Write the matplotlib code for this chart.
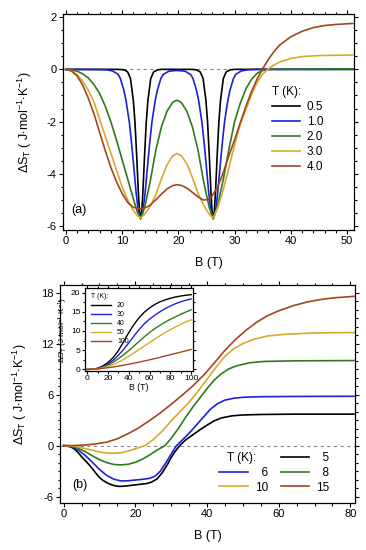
import matplotlib
matplotlib.use("Agg")
import numpy as np
from matplotlib import pyplot as plt
from matplotlib.lines import Line2D
from matplotlib.ticker import MultipleLocator

plt.rcParams['font.family'] = ['Liberation Sans', 'DejaVu Sans']
plt.rcParams['mathtext.fontset'] = 'custom'
plt.rcParams['mathtext.rm'] = 'Liberation Sans'
plt.rcParams['mathtext.it'] = 'Liberation Sans:italic'
plt.rcParams['axes.unicode_minus'] = False

# ---- panel (a): low temperatures, B up to 51 T ----
b_05 = [0, 9, 10, 10.5, 11, 11.5, 12, 12.3, 12.6, 12.9, 13.1, 13.3, 13.5, 13.7, 14.0, 14.3, 14.6, 15.1, 15.6,
        16.3, 17, 22.5, 23.2, 23.9, 24.4, 24.9, 25.2, 25.5, 25.8, 26.0, 26.2, 26.4, 26.6, 26.9, 27.2, 27.5,
        28.0, 28.5, 29.2, 30, 51]
ds_05 = [0, 0, -0.01, -0.03, -0.1, -0.35, -1.18, -2.03, -3.3, -4.72, -5.45, -5.72, -5.45, -4.72, -3.3, -2.03,
         -1.18, -0.35, -0.1, -0.02, 0, 0, -0.02, -0.1, -0.35, -1.18, -2.03, -3.3, -4.72, -5.45, -5.72, -5.45,
         -4.72, -3.3, -2.03, -1.18, -0.35, -0.1, -0.02, 0, 0]

b_10 = [0, 6, 7.3, 8.3, 9.3, 9.7, 10.3, 10.7, 11.3, 11.7, 12.1, 12.5, 12.9, 13.3, 13.7, 14.1, 14.5, 14.9, 15.3,
        15.9, 16.3, 16.9, 17.3, 18.3, 19.75, 21.2, 22.2, 22.6, 23.2, 23.6, 24.2, 24.6, 25.0, 25.4, 25.8, 26.2,
        26.6, 27.0, 27.4, 27.8, 28.2, 28.8, 29.2, 29.8, 30.2, 31.2, 32.2, 34, 51]
ds_10 = [0, -0.01, -0.02, -0.06, -0.19, -0.35, -0.78, -1.18, -2.03, -2.85, -3.77, -4.72, -5.45, -5.72, -5.45,
         -4.72, -3.77, -2.85, -2.03, -1.18, -0.78, -0.35, -0.2, -0.07, -0.04, -0.07, -0.2, -0.35, -0.78, -1.18,
         -2.03, -2.85, -3.77, -4.72, -5.45, -5.72, -5.45, -4.72, -3.77, -2.85, -2.03, -1.18, -0.78, -0.35,
         -0.19, -0.06, -0.02, 0, 0]

b_20 = [0, 1, 2, 3, 4, 5, 6, 7, 8, 9, 10, 11, 12, 12.7, 13.3, 14, 15, 16, 17, 18, 19, 19.75, 20.5, 21.5, 22.5,
        23.5, 24.5, 25.5, 26.2, 27, 28, 29, 30, 31, 32, 33, 34, 35, 36, 40, 51]
ds_20 = [0, -0.02, -0.07, -0.17, -0.33, -0.58, -0.92, -1.4, -2.0, -2.7, -3.45, -4.2, -4.95, -5.45, -5.72, -5.3,
         -4.3, -3.1, -2.2, -1.6, -1.26, -1.18, -1.26, -1.6, -2.2, -3.1, -4.3, -5.3, -5.72, -5.2, -4.2, -3.05,
         -2.0, -1.3, -0.75, -0.38, -0.15, -0.04, 0.0, 0.01, 0.02]

b_30 = [0, 1, 2, 3, 4, 5, 6, 7, 8, 9, 10, 11, 12, 12.7, 13.3, 14, 15, 16, 17, 18, 19, 19.8, 20.6, 21.6, 22.6,
        23.6, 24.6, 25.5, 26.2, 27, 28, 29, 30, 31, 32, 33, 34, 35, 36, 37, 38, 40, 42, 45, 51]
ds_30 = [0, -0.05, -0.2, -0.45, -0.8, -1.25, -1.9, -2.55, -3.2, -3.85, -4.5, -5.0, -5.4, -5.6, -5.7, -5.55,
         -5.25, -4.8, -4.2, -3.65, -3.32, -3.22, -3.32, -3.65, -4.2, -4.8, -5.25, -5.55, -5.7, -5.3, -4.6,
         -3.75, -2.9, -2.1, -1.55, -0.98, -0.5, -0.18, 0.02, 0.17, 0.28, 0.42, 0.49, 0.53, 0.55]

b_40 = [0, 1, 2, 3, 4, 5, 6, 7, 8, 9, 10, 11, 12, 13, 13.9, 15, 16, 17, 18, 19, 19.8, 20.6, 21.6, 22.6, 23.6,
        24.4, 25.2, 26, 27, 28, 29, 30, 31, 32, 33, 34, 35, 36, 37, 38, 40, 42, 44, 46, 48, 51]
ds_40 = [0, -0.06, -0.25, -0.6, -1.1, -1.7, -2.4, -3.1, -3.75, -4.3, -4.75, -5.1, -5.28, -5.34, -5.33, -5.2,
         -5.0, -4.78, -4.58, -4.45, -4.42, -4.45, -4.56, -4.73, -4.9, -5.0, -5.0, -4.85, -4.5, -3.95, -3.3,
         -2.7, -2.05, -1.42, -0.85, -0.37, 0.03, 0.38, 0.68, 0.93, 1.25, 1.46, 1.6, 1.68, 1.72, 1.76]

temps_a = ['0.5', '1.0', '2.0', '3.0', '4.0']

# ---- panel (b): higher temperatures, B up to 81 T ----
b_5 = [0, 2, 3, 4, 5, 6, 7, 8, 9, 10, 11, 12, 13, 14, 15.5, 17, 19, 21, 23, 24.5, 26, 27.5, 29, 30, 31, 32.4,
       34, 36, 38, 40, 42, 44, 47, 50, 55, 65, 81]
ds_5 = [0, -0.15, -0.4, -0.8, -1.3, -1.75, -2.2, -2.7, -3.25, -3.75, -4.1, -4.35, -4.55, -4.7, -4.8, -4.77,
        -4.67, -4.57, -4.48, -4.3, -3.95, -3.2, -2.2, -1.4, -0.75, 0, 0.65, 1.25, 1.85, 2.4, 2.9, 3.25, 3.5,
        3.6, 3.66, 3.7, 3.7]

b_6 = [0, 2, 4, 6, 8, 10, 12, 14, 16, 18, 20, 22, 24, 25.5, 27, 28.5, 30, 31.5, 33, 35, 37, 39, 41, 43, 45,
       47.5, 50, 55, 65, 81]
ds_6 = [0, -0.1, -0.5, -1.15, -1.95, -2.8, -3.5, -3.95, -4.16, -4.14, -4.05, -3.97, -3.85, -3.6, -3.0, -2.05,
        -1.0, 0, 0.6, 1.45, 2.4, 3.35, 4.3, 4.95, 5.35, 5.57, 5.68, 5.75, 5.78, 5.8]

b_8 = [0, 2, 4, 6, 8, 10, 12, 14, 16, 18, 20, 22, 24, 26, 28.3, 30, 32, 34, 36, 38, 40, 42, 44, 46, 48, 52,
       56, 65, 81]
ds_8 = [0, -0.06, -0.3, -0.7, -1.2, -1.65, -2.0, -2.22, -2.27, -2.2, -1.97, -1.6, -1.1, -0.55, 0, 0.85, 2.0,
        3.3, 4.5, 5.6, 6.7, 7.7, 8.45, 9.0, 9.35, 9.75, 9.9, 9.97, 10.0]

b_10k = [0, 2, 4, 6, 8, 10, 12, 14, 16, 18, 20, 22.7, 25, 27.5, 30, 32.5, 35, 37.5, 40, 42.5, 45, 47.5, 50,
         53, 57, 62, 70, 81]
ds_10k = [0, -0.03, -0.15, -0.35, -0.55, -0.75, -0.87, -0.9, -0.85, -0.65, -0.38, 0, 0.7, 1.7, 2.9, 4.0, 5.1,
          6.4, 7.8, 9.2, 10.5, 11.4, 12.0, 12.5, 12.9, 13.1, 13.25, 13.3]

b_15 = [0, 3, 6, 9, 12, 15, 18, 21, 24, 27, 30, 33, 36, 39, 42, 45, 48, 51, 54, 57, 60, 64, 68, 72, 76, 81]
ds_15 = [0, 0.01, 0.07, 0.2, 0.4, 0.8, 1.4, 2.1, 2.95, 3.85, 4.85, 5.9, 7.0, 8.25, 9.7, 11.2, 12.5, 13.6,
         14.55, 15.3, 15.85, 16.45, 16.9, 17.2, 17.4, 17.55]

# ---- inset: B up to 100 T ----
b_in = [0, 5, 10, 15, 20, 25, 30, 35, 40, 45, 50, 55, 60, 65, 70, 75, 80, 85, 90, 95, 100]
ds_in20 = [0, 0.05, 0.3, 0.9, 1.8, 3.1, 4.9, 7.2, 9.6, 11.7, 13.5, 14.9, 16.0, 16.9, 17.6, 18.1, 18.5, 18.85,
           19.1, 19.3, 19.45]
ds_in30 = [0, 0.04, 0.25, 0.7, 1.4, 2.4, 3.7, 5.2, 6.9, 8.7, 10.4, 11.9, 13.1, 14.1, 15.0, 15.8, 16.5, 17.1,
           17.6, 18.0, 18.35]
ds_in40 = [0, 0.04, 0.2, 0.55, 1.1, 1.9, 2.8, 3.8, 4.9, 6.1, 7.3, 8.5, 9.6, 10.6, 11.5, 12.3, 13.05, 13.7,
           14.35, 14.95, 15.5]
ds_in50 = [0, 0.03, 0.15, 0.4, 0.8, 1.3, 1.9, 2.6, 3.4, 4.3, 5.2, 6.1, 7.0, 7.9, 8.75, 9.6, 10.35, 11.05,
           11.75, 12.35, 12.9]
b_in100 = [0, 10, 20, 30, 40, 50, 60, 70, 80, 90, 100]
ds_in100 = [0, 0.12, 0.45, 0.85, 1.35, 1.9, 2.5, 3.15, 3.85, 4.5, 5.2]

colors = ['#000000', '#1f1fd8', '#2f7a1f', '#d6aa2c', '#a3461e']
ylab = r'$\Delta$S$_{\rm T}$ ( J$\cdot$mol$^{-1}$$\cdot$K$^{-1}$)'
ylab_in = r'$\Delta$S$_{\rm T}$ (J$\cdot$mol$^{-1}$$\cdot$K$^{-1}$)'
lw = 1.2


def style_axes(ax, fs=8, major=3.0, minor=1.8):
    ax.tick_params(which='both', direction='out', top=True, right=True, labelsize=fs, width=0.8, pad=1.5)
    ax.tick_params(which='major', length=major)
    ax.tick_params(which='minor', length=minor)
    for s in ax.spines.values():
        s.set_linewidth(0.9)


fig = plt.figure(figsize=(3.66, 5.5), dpi=100)

# panel (a)
ax1 = fig.add_axes([0.172, 0.582, 0.795, 0.3925])
ax1.axhline(0, color='#888888', ls=(0, (3, 3)), lw=0.8, zorder=1)
series_a = [(b_05, ds_05), (b_10, ds_10), (b_20, ds_20), (b_30, ds_30), (b_40, ds_40)]
for (bx, dy), c, t in zip(series_a, colors, temps_a):
    ax1.plot(bx, dy, color=c, lw=lw, label=t, zorder=2)
ax1.set_xlim(-0.5, 51.2)
ax1.set_ylim(-6.15, 2.12)
ax1.xaxis.set_major_locator(MultipleLocator(10))
ax1.xaxis.set_minor_locator(MultipleLocator(2))
ax1.yaxis.set_major_locator(MultipleLocator(2))
ax1.yaxis.set_minor_locator(MultipleLocator(0.5))
style_axes(ax1)
ax1.set_xlabel('B (T)', fontsize=9, labelpad=8)
ax1.set_ylabel(ylab, fontsize=9, labelpad=9)
ax1.text(0.03, 0.09, '(a)', transform=ax1.transAxes, fontsize=9, va='center')
leg1 = ax1.legend(loc='upper left', bbox_to_anchor=(0.72, 0.666), frameon=False, fontsize=8.5,
                  title='T (K):', title_fontsize=8.5, alignment='left', handlelength=2.3,
                  handletextpad=0.6, labelspacing=0.25, borderpad=0, borderaxespad=0)

# panel (b)
ax2 = fig.add_axes([0.164, 0.0855, 0.806, 0.3965])
ax2.axhline(0, color='#888888', ls=(0, (3, 3)), lw=0.8, zorder=1)
series_b = [(b_5, ds_5, '\u20075'), (b_6, ds_6, '\u20076'), (b_8, ds_8, '\u20078'),
            (b_10k, ds_10k, '10'), (b_15, ds_15, '15')]
lines_b = []
for (bx, dy, t), c in zip(series_b, colors):
    ln, = ax2.plot(bx, dy, color=c, lw=lw, label=t, zorder=2)
    lines_b.append(ln)
ax2.set_xlim(-1, 81.3)
ax2.set_ylim(-6.75, 18.9)
ax2.xaxis.set_major_locator(MultipleLocator(20))
ax2.xaxis.set_minor_locator(MultipleLocator(5))
ax2.yaxis.set_major_locator(MultipleLocator(6))
ax2.yaxis.set_minor_locator(MultipleLocator(1))
style_axes(ax2)
ax2.set_xlabel('B (T)', fontsize=9, labelpad=8)
ax2.set_ylabel(ylab, fontsize=9, labelpad=9)
ax2.text(0.04, 0.083, '(b)', transform=ax2.transAxes, fontsize=9, va='center')
blank = Line2D([], [], color='none')
handles = [blank, lines_b[1], lines_b[3], lines_b[0], lines_b[2], lines_b[4]]
labels = ['', lines_b[1].get_label(), lines_b[3].get_label(), lines_b[0].get_label(),
          lines_b[2].get_label(), lines_b[4].get_label()]
ax2.legend(handles, labels, ncol=2, loc='upper left', bbox_to_anchor=(0.54, 0.232), frameon=False,
           fontsize=8.5, handlelength=2.4, handletextpad=0.6, columnspacing=1.1, labelspacing=0.22,
           borderpad=0, borderaxespad=0)
ax2.text(0.565, 0.206, 'T (K):', transform=ax2.transAxes, fontsize=8.5, va='center', ha='left')

# inset
ax3 = fig.add_axes([0.232, 0.3255, 0.296, 0.151])
series_in = [(b_in, ds_in20, '20'), (b_in, ds_in30, '30'), (b_in, ds_in40, '40'),
             (b_in, ds_in50, '50'), (b_in100, ds_in100, '100')]
for (bx, dy, t), c in zip(series_in, colors):
    ax3.plot(bx, dy, color=c, lw=1.0, label=t)
ax3.set_xlim(-2.2, 102)
ax3.set_ylim(-0.4, 21.2)
ax3.xaxis.set_major_locator(MultipleLocator(20))
ax3.xaxis.set_minor_locator(MultipleLocator(10))
ax3.yaxis.set_major_locator(MultipleLocator(5))
ax3.yaxis.set_minor_locator(MultipleLocator(2.5))
style_axes(ax3, fs=6, major=2.2, minor=1.3)
ax3.tick_params(which='both', pad=1)
ax3.set_xlabel('B (T)', fontsize=6.3, labelpad=0.5)
ax3.set_ylabel(ylab_in, fontsize=6, labelpad=0.5)
ax3.legend(loc='upper left', bbox_to_anchor=(0.06, 0.94), frameon=False, fontsize=5, title='T (K):',
           title_fontsize=5, alignment='left', handlelength=2.8, handletextpad=0.9, labelspacing=0.3,
           borderpad=0, borderaxespad=0)

fig.savefig('out.png', dpi=100)
